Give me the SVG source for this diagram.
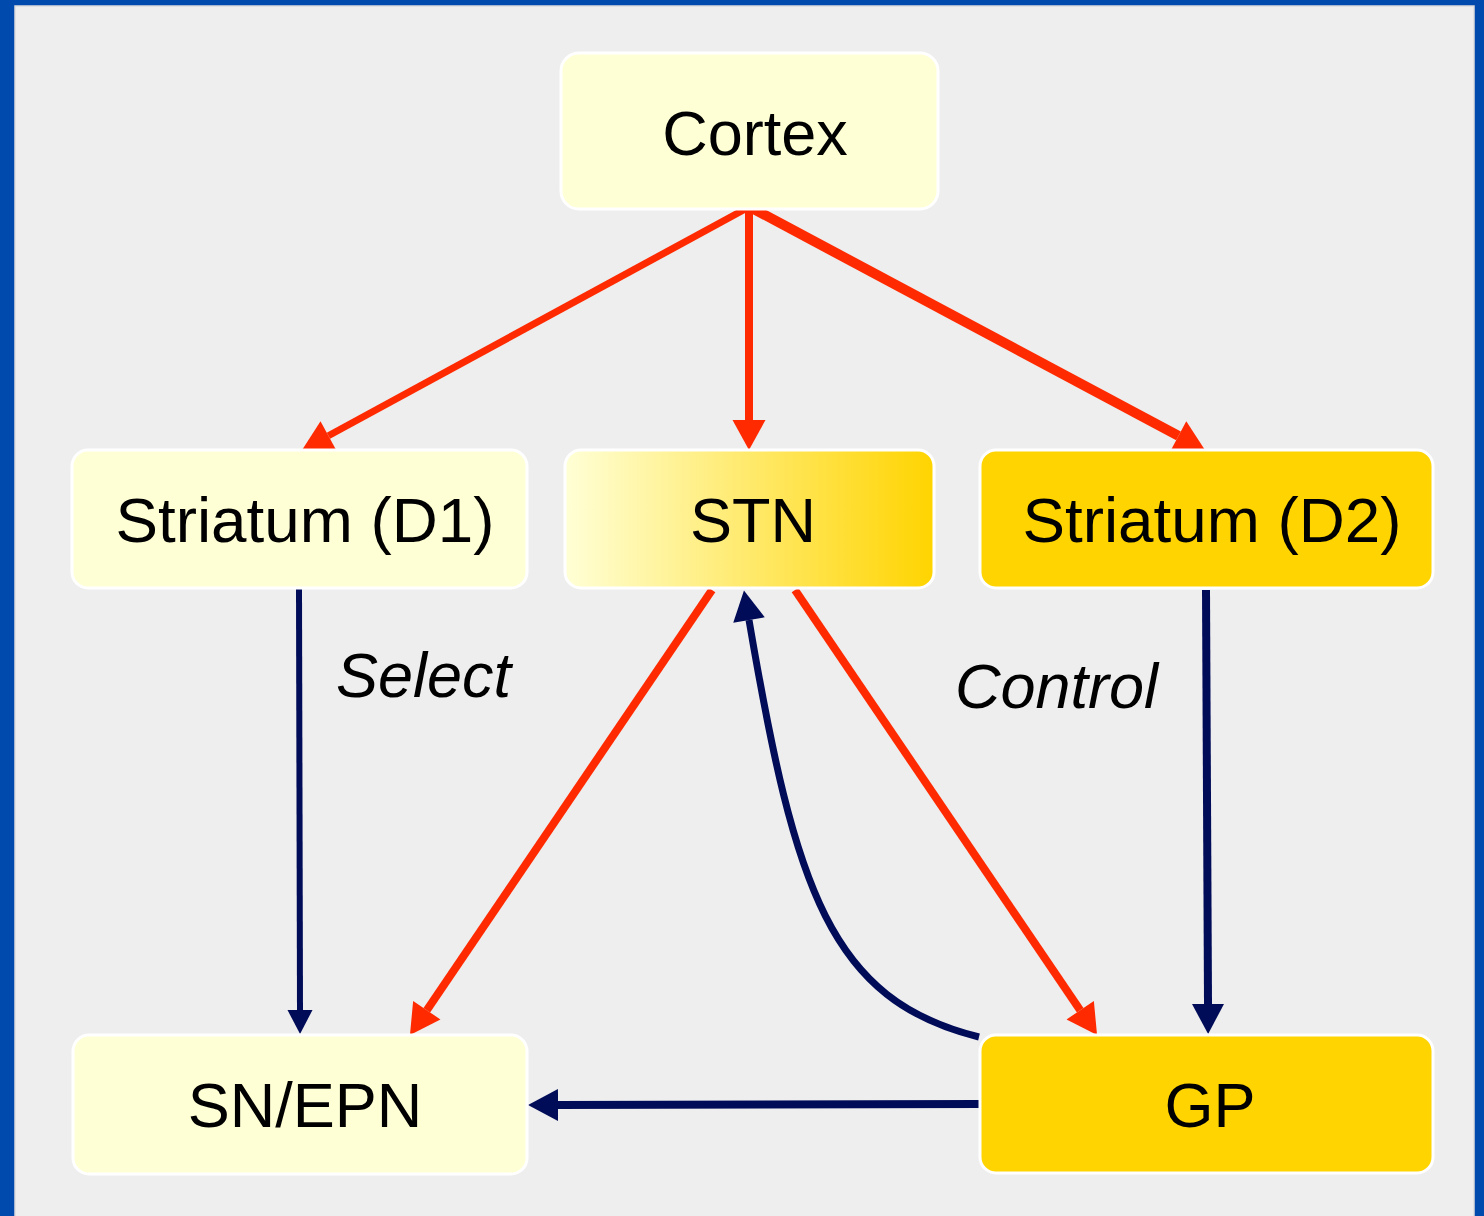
<svg xmlns="http://www.w3.org/2000/svg" width="1484" height="1216" viewBox="0 0 1484 1216">
<style>
.node{stroke:#ffffff;stroke-width:3}
.lt{fill:#ffffd6}
.gd{fill:#ffd400}
.lbl{font-family:"Liberation Sans",Arial,sans-serif;font-size:63px;fill:#000000;text-anchor:middle}
.it{font-family:"Liberation Sans",Arial,sans-serif;font-size:63px;font-style:italic;fill:#000000}
.red{fill:none;stroke:#ff2a00}
.navy{fill:none;stroke:#000c58}
</style>
<defs>
<linearGradient id="stnGrad" x1="0" y1="0" x2="1" y2="0">
<stop offset="0" stop-color="#ffffd6"/>
<stop offset="1" stop-color="#ffd400"/>
</linearGradient>
<marker id="ahRed" markerUnits="userSpaceOnUse" viewBox="0 -17 31 34" refX="0" refY="0" markerWidth="31" markerHeight="34" orient="auto" overflow="visible">
<path d="M0,-16.5 L30,0 L0,16.5 Z" fill="#ff2a00"/>
</marker>
<marker id="ahNavy" markerUnits="userSpaceOnUse" viewBox="0 -17 31 34" refX="0" refY="0" markerWidth="31" markerHeight="34" orient="auto" overflow="visible">
<path d="M0,-16 L30,0 L0,16 Z" fill="#000c58"/>
</marker>
<marker id="ahNavySm" markerUnits="userSpaceOnUse" viewBox="0 -13 25 26" refX="0" refY="0" markerWidth="25" markerHeight="26" orient="auto" overflow="visible">
<path d="M0,-12.5 L24,0 L0,12.5 Z" fill="#000c58"/>
</marker>
</defs>
<rect x="0" y="0" width="1484" height="1216" fill="#004aad"/>
<rect x="15" y="6" width="1459" height="1220" fill="#eeeeee" stroke="#dcdcdc" stroke-width="1.5"/>

<g id="connectors">
<path class="red" stroke-width="7" d="M749,207 L328.4,435.7" marker-end="url(#ahRed)"/>
<path class="red" stroke-width="8" d="M749,207 L749,420" marker-end="url(#ahRed)"/>
<path class="red" stroke-width="10" d="M750,207 L1178.5,435.9" marker-end="url(#ahRed)"/>
<path class="red" stroke-width="8" d="M712,590 L426.8,1010.2" marker-end="url(#ahRed)"/>
<path class="red" stroke-width="8" d="M795,590 L1080.2,1010.2" marker-end="url(#ahRed)"/>
<path class="navy" stroke-width="6" d="M299,589 L300,1010" marker-end="url(#ahNavySm)"/>
<path class="navy" stroke-width="8" d="M1206,590 L1208,1004" marker-end="url(#ahNavy)"/>
<path class="navy" stroke-width="8" d="M979,1104 L558,1105" marker-end="url(#ahNavy)"/>
<path class="navy" stroke-width="7" d="M979,1037 C830,1000 795,890 749,620" marker-end="url(#ahNavy)"/>
</g>

<g id="cortex">
<rect class="node lt" x="561" y="53" width="377" height="156" rx="18"/>
<text class="lbl" x="755" y="155">Cortex</text>
</g>
<g id="striatum-d1">
<rect class="node lt" x="72" y="450" width="455" height="138" rx="16"/>
<text class="lbl" x="305" y="542" textLength="379" lengthAdjust="spacingAndGlyphs">Striatum (D1)</text>
</g>
<g id="stn">
<rect class="node" fill="url(#stnGrad)" x="565" y="450" width="369" height="138" rx="16"/>
<text class="lbl" x="753" y="542">STN</text>
</g>
<g id="striatum-d2">
<rect class="node gd" x="980" y="450" width="453" height="138" rx="16"/>
<text class="lbl" x="1212" y="542" textLength="379" lengthAdjust="spacingAndGlyphs">Striatum (D2)</text>
</g>
<g id="sn-epn">
<rect class="node lt" x="73" y="1035" width="454" height="139" rx="16"/>
<text class="lbl" x="305" y="1127">SN/EPN</text>
</g>
<g id="gp">
<rect class="node gd" x="980" y="1035" width="453" height="138" rx="16"/>
<text class="lbl" x="1210" y="1127">GP</text>
</g>

<g id="labels">
<text class="it" x="336" y="697">Select</text>
<text class="it" x="955" y="708">Control</text>
</g>
</svg>
